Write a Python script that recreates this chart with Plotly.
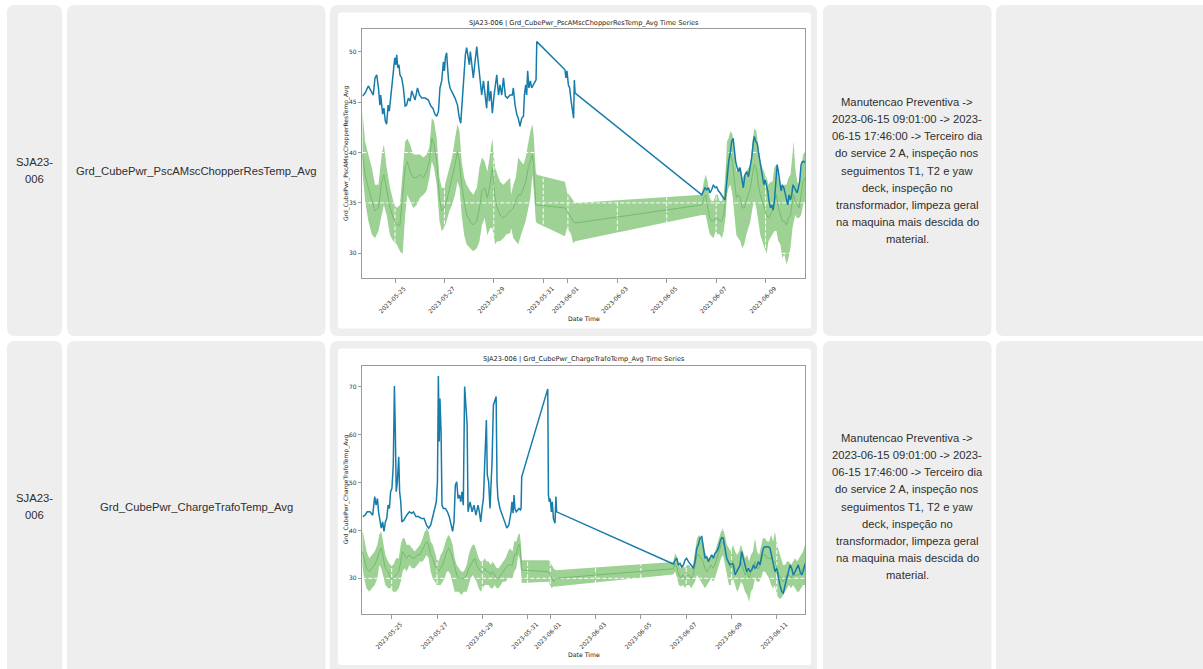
import pandas as pd
import plotly.graph_objects as go

W, H = 1203, 669
BASE = pd.Timestamp("2023-05-23 00:00")

# ---------------- Chart 1 : Grd_CubePwr_PscAMscChopperResTemp_Avg ----------------
c1_blue_day = [0.69, 0.79, 0.92, 1.02, 1.12, 1.19, 1.26, 1.33, 1.39, 1.42, 1.50, 1.55, 1.61, 1.66, 1.72, 1.77,
               1.83, 1.88, 1.93, 1.99, 2.03, 2.07, 2.11, 2.16, 2.20, 2.27, 2.34, 2.41, 2.47, 2.54, 2.61, 2.68,
               2.74, 2.81, 2.91, 2.99, 3.08, 3.22, 3.35, 3.45, 3.53, 3.62, 3.69, 3.76, 3.82, 3.89, 3.96, 4.00,
               4.04, 4.09, 4.13, 4.17, 4.23, 4.34, 4.43, 4.53, 4.59, 4.66, 4.74, 4.80, 4.85, 4.90, 4.96, 5.01,
               5.05, 5.11, 5.17, 5.24, 5.31, 5.38, 5.44, 5.51, 5.58, 5.65, 5.71, 5.77, 5.82, 5.88, 5.94, 6.01,
               6.06, 6.12, 6.19, 6.25, 6.32, 6.39, 6.47, 6.55, 6.66, 6.75, 6.79, 6.86, 6.93, 6.99, 7.06, 7.13,
               7.20, 7.24, 7.29, 7.33, 7.37, 7.42, 7.48, 7.53, 7.60, 7.67, 7.71, 7.74, 8.88, 8.92, 8.96, 9.02,
               9.07, 9.13, 9.18, 9.23, 9.26, 9.29, 14.42, 14.48, 14.55, 14.62, 14.69, 14.75, 14.82, 14.89,
               14.96, 15.02, 15.09, 15.16, 15.23, 15.29, 15.36, 15.42, 15.47, 15.52, 15.58, 15.63, 15.69,
               15.74, 15.79, 15.85, 15.90, 15.97, 16.04, 16.10, 16.17, 16.24, 16.31, 16.37, 16.44, 16.51,
               16.55, 16.60, 16.66, 16.71, 16.76, 16.82, 16.87, 16.93, 16.98, 17.04, 17.09, 17.14, 17.20,
               17.25, 17.31, 17.36, 17.41, 17.47, 17.52, 17.58, 17.63, 17.68, 17.74, 17.79, 17.84, 17.90,
               17.95, 18.01, 18.06, 18.11, 18.17, 18.22, 18.28, 18.33, 18.38, 18.44, 18.49, 18.55, 18.60]
c1_blue_val = [45.6, 45.9, 46.6, 46.1, 45.7, 47.4, 47.7, 46.4, 44.7, 45.7, 43.8, 44.4, 43.1, 42.8, 44.7, 44.1,
               45.7, 46.4, 48.4, 49.4, 48.7, 49.7, 48.4, 48.7, 47.7, 47.4, 46.4, 44.6, 44.7, 45.4, 45.1, 46.1,
               45.7, 45.2, 46.4, 45.7, 45.4, 45.4, 45.2, 44.6, 44.4, 43.8, 43.6, 44.1, 46.4, 47.1, 49.0, 48.1,
               49.4, 49.9, 48.4, 47.1, 46.4, 45.9, 45.4, 44.7, 43.6, 42.9, 45.7, 48.4, 49.7, 50.4, 49.4, 48.7,
               50.0, 48.4, 47.4, 49.0, 50.5, 48.7, 47.4, 45.7, 47.1, 45.4, 44.4, 47.1, 45.1, 46.1, 43.9, 45.7,
               46.7, 47.7, 45.7, 46.7, 45.7, 47.4, 45.6, 45.4, 45.7, 45.7, 46.4, 44.7, 43.8, 43.4, 42.6, 43.4,
               43.6, 45.7, 46.7, 45.7, 48.1, 46.4, 47.1, 46.4, 46.7, 47.1, 47.2, 51.0, 48.2, 47.4, 48.1, 46.7,
               46.4, 45.1, 43.9, 43.4, 47.2, 45.9, 35.8, 36.2, 36.5, 36.3, 36.5, 36.0, 36.3, 36.8,
               36.5, 36.6, 36.2, 36.0, 35.7, 35.5, 35.3, 36.8, 38.8, 39.3, 40.1, 41.1, 41.4,
               40.0, 39.1, 38.5, 38.1, 38.5, 37.3, 36.5, 37.8, 38.1, 37.6, 38.5, 39.5, 41.1,
               41.6, 41.1, 40.9, 40.1, 39.3, 38.1, 37.5, 36.8, 37.3, 36.8, 36.2, 35.2, 34.5,
               34.8, 34.3, 35.2, 36.8, 38.8, 38.1, 36.8, 36.2, 36.8, 36.5, 36.0, 35.5, 34.8,
               35.8, 35.3, 35.8, 36.8, 36.5, 36.2, 36.0, 36.5, 37.1, 38.8, 39.1, 39.1, 39.0]

c1_band_day = [0.68, 0.79, 0.92, 1.06, 1.19, 1.33, 1.46, 1.55, 1.66, 1.80, 1.93, 2.07, 2.20, 2.31, 2.41, 2.50,
               2.61, 2.74, 2.88, 3.01, 3.15, 3.28, 3.39, 3.49, 3.58, 3.69, 3.80, 3.89, 3.99, 4.09, 4.20, 4.31,
               4.43, 4.53, 4.61, 4.70, 4.80, 4.90, 5.04, 5.17, 5.31, 5.42, 5.52, 5.63, 5.74, 5.85, 5.94, 6.05,
               6.14, 6.25, 6.39, 6.52, 6.66, 6.70, 6.79, 6.89, 6.99, 7.10, 7.20, 7.29, 7.40, 7.48, 7.56, 7.61,
               7.70, 7.74, 8.88, 8.96, 9.05, 9.13, 9.21, 9.29, 14.42, 14.50, 14.58, 14.66, 14.74, 14.82, 14.90,
               14.98, 15.06, 15.14, 15.23, 15.31, 15.39, 15.44, 15.50, 15.58, 15.66, 15.74, 15.82, 15.90, 15.98,
               16.06, 16.14, 16.22, 16.31, 16.39, 16.47, 16.55, 16.63, 16.71, 16.79, 16.87, 16.95, 17.04, 17.12,
               17.20, 17.28, 17.36, 17.44, 17.52, 17.60, 17.68, 17.76, 17.85, 17.93, 18.01, 18.09, 18.14, 18.20,
               18.28, 18.36, 18.44, 18.52, 18.60]
c1_band_upper = [44.1, 41.1, 39.8, 38.5, 36.8, 36.8, 39.8, 40.8, 38.5, 36.5, 35.2, 34.5, 34.8, 38.1, 41.1, 41.4,
                 40.8, 39.8, 39.8, 39.8, 39.5, 39.8, 40.5, 43.4, 43.1, 41.4, 37.5, 36.5, 36.5, 37.5, 38.5, 39.5,
                 41.4, 42.8, 42.1, 39.1, 37.5, 36.8, 36.2, 35.8, 36.5, 38.5, 39.5, 39.1, 38.1, 40.1, 41.4, 38.5,
                 37.8, 37.1, 36.8, 37.1, 37.5, 35.8, 36.8, 37.5, 39.5, 39.1, 38.8, 39.5, 41.1, 42.1, 42.8, 41.8,
                 38.1, 37.8, 37.1, 36.1, 35.8, 35.5, 35.2, 35.0, 35.8, 37.1, 37.8, 37.1, 35.5, 35.2, 35.2,
                 35.8, 35.8, 35.2, 35.2, 35.8, 38.5, 41.1, 41.4, 42.1, 41.8, 39.8, 38.1, 38.5, 38.5,
                 37.5, 37.8, 38.1, 38.5, 38.8, 41.1, 42.4, 42.1, 40.8, 39.1, 38.5, 38.1, 37.5, 36.8,
                 37.1, 37.1, 38.5, 38.8, 37.5, 36.8, 36.5, 36.8, 36.8, 37.5, 37.8, 39.8, 41.1, 38.5,
                 37.1, 36.8, 38.5, 39.8, 40.1]
c1_band_mean = [39.8, 37.8, 36.5, 35.2, 34.2, 34.5, 37.1, 37.8, 36.5, 34.5, 33.5, 32.8, 32.8, 35.5, 38.5, 39.1,
                38.1, 37.5, 37.5, 37.8, 37.5, 38.1, 39.1, 41.4, 40.8, 39.1, 35.5, 34.2, 34.5, 35.2, 36.5, 37.5,
                38.8, 40.1, 39.1, 36.8, 35.2, 33.8, 33.2, 32.8, 33.2, 34.5, 36.2, 36.5, 35.5, 36.8, 38.5, 35.5,
                34.5, 33.8, 33.5, 33.8, 34.2, 34.2, 34.5, 35.2, 35.8, 35.8, 36.5, 37.1, 38.5, 39.1, 39.8, 38.8,
                34.8, 34.8, 34.5, 34.2, 33.8, 33.5, 33.2, 33.0, 34.8, 35.5, 35.8, 34.5, 33.5, 33.2, 33.2,
                33.5, 33.5, 33.2, 33.2, 33.8, 35.8, 38.5, 39.1, 39.8, 39.1, 37.1, 35.5, 35.8, 35.5,
                34.5, 34.5, 35.2, 35.8, 36.5, 37.8, 38.8, 38.5, 36.8, 35.8, 35.2, 34.5, 33.8, 33.5,
                33.8, 34.2, 35.2, 35.8, 34.5, 33.8, 33.2, 33.2, 32.8, 33.5, 33.8, 35.2, 35.8, 35.2,
                34.8, 34.5, 35.8, 37.1, 37.5]
c1_band_lower = [38.1, 35.2, 33.2, 31.9, 31.5, 32.2, 33.8, 34.8, 33.8, 31.8, 31.2, 30.9, 30.2, 29.9, 33.8, 35.8,
                 35.2, 34.5, 34.8, 35.5, 35.8, 36.2, 37.5, 39.1, 38.5, 36.8, 33.2, 32.2, 32.5, 33.2, 34.2, 34.8,
                 35.8, 37.1, 36.5, 33.8, 31.8, 30.9, 30.5, 30.2, 30.5, 31.2, 32.8, 33.5, 31.8, 32.5, 32.5, 30.9,
                 31.2, 31.2, 31.5, 31.9, 32.0, 32.5, 31.5, 31.2, 30.9, 31.8, 32.5, 33.2, 34.5, 35.5, 37.8, 36.5,
                 33.2, 33.0, 31.7, 32.5, 32.2, 31.9, 31.0, 31.2, 33.8, 33.8, 33.8, 32.8, 31.9, 31.7, 31.5,
                 32.2, 31.9, 31.9, 31.5, 32.2, 33.8, 35.8, 36.5, 36.8, 35.8, 33.8, 31.8, 31.5, 31.2,
                 30.5, 30.9, 31.8, 32.5, 33.2, 34.5, 35.2, 34.5, 33.2, 31.8, 31.2, 30.5, 29.9, 31.2,
                 31.5, 31.8, 32.2, 32.2, 31.2, 30.9, 29.5, 29.9, 28.9, 29.5, 30.5, 32.5, 33.2, 33.8,
                 33.5, 33.5, 33.8, 34.8, 35.2]

c1_title = "SJA23-006 | Grd_CubePwr_PscAMscChopperResTemp_Avg Time Series"
c1_ylabel = "Grd_CubePwr_PscAMscChopperResTemp_Avg"
c1_xticks = ["2023-05-25", "2023-05-27", "2023-05-29", "2023-05-31", "2023-06-01",
             "2023-06-03", "2023-06-05", "2023-06-07", "2023-06-09"]
c1_yticks = [30, 35, 40, 45, 50]
c1_xrange_day = [0.676, 18.61]
c1_yrange = [27.52, 52.28]

# ---------------- Chart 2 : Grd_CubePwr_ChargeTrafoTemp_Avg ----------------
c2_blue_day = [0.72, 0.82, 0.92, 1.04, 1.16, 1.25, 1.31, 1.37, 1.42, 1.48, 1.54, 1.60, 1.66, 1.72, 1.78, 1.84,
               1.90, 1.95, 2.01, 2.07, 2.12, 2.16, 2.20, 2.25, 2.31, 2.35, 2.40, 2.45, 2.54, 2.66, 2.78, 2.88,
               2.96, 3.07, 3.18, 3.32, 3.43, 3.54, 3.63, 3.72, 3.81, 3.90, 3.97, 4.02, 4.06, 4.10, 4.13, 4.18,
               4.22, 4.28, 4.37, 4.46, 4.54, 4.63, 4.69, 4.75, 4.81, 4.87, 4.93, 4.99, 5.05, 5.10, 5.16, 5.22,
               5.28, 5.33, 5.37, 5.46, 5.55, 5.63, 5.72, 5.81, 5.87, 5.93, 5.99, 6.05, 6.11, 6.18, 6.22, 6.28,
               6.34, 6.43, 6.49, 6.56, 6.61, 6.65, 6.69, 6.78, 6.90, 6.99, 7.08, 7.17, 7.22, 7.27, 7.31, 7.36,
               7.40, 7.44, 7.50, 7.56, 7.62, 7.68, 7.71, 7.74, 8.89, 8.92, 8.96, 9.00, 9.05, 9.09, 9.14, 9.21,
               9.25, 9.28, 14.43, 14.51, 14.58, 14.66, 14.73, 14.80, 14.88, 14.95, 15.02, 15.10, 15.17, 15.24,
               15.32, 15.39, 15.47, 15.54, 15.61, 15.69, 15.76, 15.83, 15.91, 15.98, 16.05, 16.13, 16.20,
               16.27, 16.35, 16.42, 16.50, 16.57, 16.64, 16.72, 16.79, 16.86, 16.94, 17.01, 17.08, 17.16,
               17.23, 17.31, 17.38, 17.45, 17.53, 17.60, 17.67, 17.75, 17.82, 17.89, 17.97, 18.04, 18.11,
               18.19, 18.26, 18.34, 18.41, 18.48, 18.56, 18.63, 18.70, 18.78, 18.85, 18.92, 19.00, 19.07,
               19.14, 19.22, 19.29, 19.37, 19.44, 19.51, 19.59, 19.66, 19.73, 19.81, 19.88, 19.95, 20.03,
               20.10, 20.18, 20.25]
c2_blue_val = [42.9, 43.2, 43.9, 43.9, 43.2, 47.1, 45.3, 46.7, 43.9, 41.8, 40.5, 41.8, 39.8, 41.8, 42.5, 45.3,
               44.6, 48.1, 48.8, 53.7, 70.2, 60.7, 48.1, 50.2, 55.4, 48.1, 46.0, 41.8, 42.2, 43.2, 43.9, 43.6,
               43.9, 42.9, 42.9, 42.5, 42.5, 41.1, 40.5, 41.1, 43.2, 44.6, 46.0, 50.2, 72.3, 58.6, 67.6, 60.7,
               45.3, 44.6, 44.6, 43.9, 42.9, 41.1, 39.8, 41.8, 49.5, 50.2, 46.7, 47.4, 46.0, 48.1, 45.3, 70.1,
               66.2, 62.1, 43.9, 46.0, 43.9, 45.3, 43.2, 45.3, 43.9, 41.8, 44.6, 46.7, 54.4, 63.1, 51.6, 50.2,
               44.6, 54.4, 66.2, 67.3, 68.0, 50.2, 46.7, 44.6, 43.2, 41.8, 40.5, 41.1, 42.5, 43.9, 46.0, 43.6,
               47.4, 44.6, 43.9, 44.3, 44.6, 44.3, 44.6, 51.2, 69.6, 47.4, 46.0, 46.7, 43.9, 46.0, 42.5, 41.5,
               47.1, 43.9, 33.0, 33.8, 34.2, 32.8, 33.1, 32.4, 32.8, 33.8, 34.2, 33.5, 33.1, 32.8,
               32.1, 33.5, 36.3, 37.0, 38.4, 38.7, 36.6, 34.2, 34.5, 33.5, 34.2, 34.9, 34.2,
               35.2, 35.6, 36.3, 37.7, 38.5, 38.4, 36.3, 34.2, 33.5, 32.8, 33.1, 32.8, 30.7,
               31.4, 32.1, 32.8, 35.6, 34.2, 32.8, 31.4, 32.1, 31.4, 31.7, 32.8, 32.1, 32.4,
               33.5, 32.8, 34.9, 36.3, 36.6, 36.6, 36.6, 36.3, 34.2, 32.8, 31.4, 32.1, 30.0,
               28.6, 27.2, 26.9, 28.6, 30.0, 31.4, 32.8, 32.1, 30.7, 31.4, 32.1, 32.8, 31.4,
               30.7, 31.7, 33.1]

c2_band_day = [0.70, 0.78, 0.89, 1.01, 1.13, 1.25, 1.37, 1.45, 1.54, 1.63, 1.72, 1.84, 1.95, 2.07, 2.19, 2.31,
               2.40, 2.48, 2.57, 2.66, 2.78, 2.90, 3.01, 3.13, 3.25, 3.37, 3.46, 3.54, 3.63, 3.72, 3.81, 3.90,
               3.99, 4.07, 4.16, 4.25, 4.34, 4.43, 4.52, 4.60, 4.69, 4.78, 4.87, 4.96, 5.07, 5.19, 5.31, 5.40,
               5.49, 5.58, 5.66, 5.75, 5.84, 5.93, 6.02, 6.11, 6.19, 6.28, 6.37, 6.46, 6.55, 6.64, 6.72, 6.81,
               6.90, 7.02, 7.14, 7.22, 7.33, 7.41, 7.50, 7.59, 7.65, 7.71, 7.74, 8.92, 8.99, 9.06, 9.14, 9.24,
               14.43, 14.51, 14.60, 14.68, 14.77, 14.86, 14.95, 15.04, 15.13, 15.22, 15.30, 15.39, 15.48, 15.57,
               15.66, 15.74, 15.83, 15.92, 16.01, 16.10, 16.19, 16.27, 16.36, 16.45, 16.54, 16.63, 16.72, 16.80,
               16.89, 16.98, 17.07, 17.16, 17.25, 17.33, 17.42, 17.51, 17.60, 17.69, 17.78, 17.86, 17.95, 18.04,
               18.13, 18.22, 18.31, 18.39, 18.48, 18.57, 18.66, 18.75, 18.84, 18.92, 19.01, 19.10, 19.19, 19.28,
               19.37, 19.45, 19.54, 19.63, 19.72, 19.81, 19.90, 19.98, 20.07, 20.16, 20.25]
c2_band_upper = [40.5, 38.4, 35.6, 34.2, 34.9, 35.6, 37.0, 39.1, 39.8, 37.7, 34.9, 33.5, 32.8, 32.8, 34.2, 34.2,
                 37.0, 38.4, 38.4, 37.0, 37.0, 36.3, 35.6, 36.3, 37.0, 38.4, 39.8, 40.5, 39.8, 37.7, 37.0, 35.6,
                 34.2, 33.5, 34.9, 35.6, 37.0, 38.4, 39.1, 38.4, 37.0, 34.2, 32.8, 32.1, 31.4, 31.4, 32.8, 34.9,
                 36.3, 37.0, 37.0, 35.6, 34.2, 33.5, 33.5, 34.2, 33.5, 33.5, 32.8, 33.5, 32.8, 32.1, 32.1, 32.8,
                 33.5, 34.2, 35.6, 36.3, 35.6, 37.7, 37.7, 39.1, 39.4, 37.0, 33.8, 33.8, 33.5, 32.8, 32.1, 31.7,
                 33.4, 35.2, 34.5, 32.8, 32.1, 32.8, 32.1, 32.8, 32.8, 32.1, 32.8, 35.6, 38.4, 39.1,
                 38.4, 37.7, 35.6, 34.2, 34.2, 34.9, 34.2, 35.6, 37.0, 38.4, 39.8, 40.5, 38.4, 37.0,
                 36.3, 35.6, 37.0, 35.6, 34.9, 35.6, 37.0, 35.6, 34.2, 34.9, 33.5, 34.9, 35.6, 38.4,
                 35.6, 34.9, 37.0, 38.4, 38.4, 37.7, 37.7, 39.1, 37.7, 39.8, 37.0, 35.6, 34.2, 32.8,
                 32.8, 33.5, 33.5, 32.8, 33.5, 34.2, 33.5, 34.2, 34.9, 35.6, 37.0]
c2_band_mean = [35.6, 34.2, 32.1, 31.4, 32.1, 32.8, 34.2, 35.6, 36.3, 34.2, 32.1, 31.4, 30.0, 30.0, 30.7, 31.4,
                33.5, 35.6, 34.9, 34.2, 34.9, 34.2, 34.2, 34.9, 34.9, 36.3, 37.0, 37.7, 37.0, 34.9, 34.2, 32.8,
                32.1, 31.4, 32.1, 32.8, 34.2, 35.6, 36.3, 35.6, 34.2, 32.1, 30.7, 30.0, 30.0, 30.0, 30.7, 32.1,
                32.8, 33.5, 34.2, 32.8, 32.1, 31.4, 31.4, 32.1, 31.4, 31.4, 30.7, 31.4, 30.7, 30.0, 30.0, 30.7,
                31.4, 32.1, 32.8, 32.8, 32.8, 34.9, 34.9, 37.0, 37.0, 34.2, 31.7, 31.4, 30.7, 30.0, 29.3, 30.0,
                32.0, 33.1, 32.1, 30.7, 30.0, 30.7, 30.0, 30.7, 30.7, 30.0, 30.7, 32.8, 34.9, 34.9,
                34.2, 33.5, 32.1, 31.4, 32.1, 32.8, 32.1, 32.8, 34.2, 35.6, 37.0, 37.7, 35.6, 34.2,
                32.8, 32.1, 33.5, 32.1, 31.4, 32.1, 33.5, 32.1, 30.7, 31.4, 30.0, 31.4, 32.1, 33.5,
                32.1, 32.1, 33.5, 34.9, 34.9, 34.2, 34.2, 34.2, 33.5, 33.5, 32.1, 30.7, 30.0, 29.3,
                30.0, 30.7, 30.7, 30.0, 30.7, 30.7, 30.7, 30.7, 31.4, 32.1, 32.8]
c2_band_lower = [32.8, 30.0, 27.9, 27.2, 27.9, 28.6, 30.0, 32.8, 32.1, 30.0, 28.6, 27.9, 27.9, 27.2, 27.2, 27.9,
                 29.3, 31.4, 32.1, 31.4, 32.8, 32.1, 32.1, 32.8, 33.5, 33.5, 34.2, 34.9, 34.2, 31.4, 30.0, 29.3,
                 28.6, 28.6, 28.6, 29.3, 30.0, 31.4, 31.4, 30.7, 28.6, 27.2, 27.2, 27.2, 26.5, 27.2, 27.2, 28.6,
                 30.0, 30.7, 30.0, 29.3, 27.9, 27.2, 27.9, 28.6, 28.6, 28.6, 27.9, 27.9, 28.6, 27.9, 27.9, 28.6,
                 29.3, 29.3, 30.0, 30.0, 30.0, 31.4, 32.1, 34.9, 34.2, 31.4, 29.0, 29.3, 28.6, 27.9, 28.3, 28.3,
                 30.8, 31.4, 30.0, 28.6, 28.3, 28.6, 27.9, 28.6, 28.6, 27.9, 28.6, 29.3, 30.7, 30.0,
                 29.3, 28.6, 27.9, 28.6, 29.3, 30.0, 29.3, 30.0, 31.4, 32.8, 34.2, 34.9, 32.8, 30.7,
                 28.6, 28.6, 30.0, 28.6, 27.2, 27.9, 29.3, 28.6, 27.2, 26.5, 25.1, 27.2, 27.9, 30.0,
                 29.3, 29.3, 30.0, 31.4, 31.4, 30.7, 30.0, 28.6, 27.9, 28.6, 26.5, 25.8, 25.8, 26.5,
                 27.2, 27.9, 28.6, 27.9, 28.6, 27.9, 27.2, 27.2, 27.9, 28.6, 28.6]

c2_title = "SJA23-006 | Grd_CubePwr_ChargeTrafoTemp_Avg Time Series"
c2_ylabel = "Grd_CubePwr_ChargeTrafoTemp_Avg"
c2_xticks = ["2023-05-25", "2023-05-27", "2023-05-29", "2023-05-31", "2023-06-01",
             "2023-06-03", "2023-06-05", "2023-06-07", "2023-06-09", "2023-06-11"]
c2_yticks = [30, 40, 50, 60, 70]
c2_xrange_day = [0.702, 20.26]
c2_yrange = [22.54, 74.45]

# ---------------- Table text ----------------
row_ids = ["SJA23-006", "SJA23-006"]
row_vars = ["Grd_CubePwr_PscAMscChopperResTemp_Avg", "Grd_CubePwr_ChargeTrafoTemp_Avg"]
note_lines = ["Manutencao Preventiva ->",
              "2023-06-15 09:01:00 -> 2023-",
              "06-15 17:46:00 -> Terceiro dia",
              "do service 2 A, inspeção nos",
              "seguimentos T1, T2 e yaw",
              "deck, inspeção no",
              "transformador, limpeza geral",
              "na maquina mais descida do",
              "material."]

# ---------------- styling ----------------
CELL_BG = "#eeeeee"
TEXT_C = "#2e2e2e"
BLUE = "#167ca9"
BAND = "#9dd294"
MEAN = "#74bb6f"
SPINE = "#9a9a9a"
MPL_FONT = "DejaVu Sans"
CELL_FONT = "Liberation Sans, Arial, sans-serif"


def ts(days):
    return [BASE + pd.to_timedelta(d, unit="D") for d in days]


def X(px):
    return px / W


def Y(py):
    return 1 - py / H


def rrect(x0, y0, x1, y1, r, color):
    p = (f"M {X(x0 + r)},{Y(y0)} L {X(x1 - r)},{Y(y0)} Q {X(x1)},{Y(y0)} {X(x1)},{Y(y0 + r)} "
         f"L {X(x1)},{Y(y1 - r)} Q {X(x1)},{Y(y1)} {X(x1 - r)},{Y(y1)} "
         f"L {X(x0 + r)},{Y(y1)} Q {X(x0)},{Y(y1)} {X(x0)},{Y(y1 - r)} "
         f"L {X(x0)},{Y(y0 + r)} Q {X(x0)},{Y(y0)} {X(x0 + r)},{Y(y0)} Z")
    return dict(type="path", path=p, xref="paper", yref="paper", fillcolor=color,
                line=dict(width=0), layer="below")


fig = go.Figure()

charts = [
    dict(xa="x", ya="y", bd=c1_blue_day, bv=c1_blue_val, nd=c1_band_day, up=c1_band_upper,
         mn=c1_band_mean, lo=c1_band_lower, xt=c1_xticks, yt=c1_yticks, xr=c1_xrange_day, yr=c1_yrange),
    dict(xa="x2", ya="y2", bd=c2_blue_day, bv=c2_blue_val, nd=c2_band_day, up=c2_band_upper,
         mn=c2_band_mean, lo=c2_band_lower, xt=c2_xticks, yt=c2_yticks, xr=c2_xrange_day, yr=c2_yrange),
]

for c in charts:
    bx = ts(c["nd"])
    fig.add_trace(go.Scatter(x=bx, y=c["lo"], mode="lines", line=dict(width=0, color=BAND),
                             xaxis=c["xa"], yaxis=c["ya"], showlegend=False, hoverinfo="skip"))
    fig.add_trace(go.Scatter(x=bx, y=c["up"], mode="lines", line=dict(width=0, color=BAND),
                             fill="tonexty", fillcolor=BAND,
                             xaxis=c["xa"], yaxis=c["ya"], showlegend=False, hoverinfo="skip"))
    # grid lines (drawn above the band, below the lines, as in matplotlib)
    x0, x1 = ts(c["xr"])
    gx, gy = [], []
    for t in c["xt"]:
        gx += [pd.Timestamp(t), pd.Timestamp(t), None]
        gy += [c["yr"][0], c["yr"][1], None]
    for v in c["yt"]:
        gx += [x0, x1, None]
        gy += [v, v, None]
    fig.add_trace(go.Scatter(x=gx, y=gy, mode="lines", line=dict(width=1, color="white", dash="4px,2px"),
                             xaxis=c["xa"], yaxis=c["ya"], showlegend=False, hoverinfo="skip"))
    fig.add_trace(go.Scatter(x=bx, y=c["mn"], mode="lines", line=dict(width=1, color=MEAN),
                             xaxis=c["xa"], yaxis=c["ya"], showlegend=False, hoverinfo="skip"))
    fig.add_trace(go.Scatter(x=ts(c["bd"]), y=c["bv"], mode="lines", line=dict(width=1.5, color=BLUE),
                             xaxis=c["xa"], yaxis=c["ya"], showlegend=False, hoverinfo="skip"))

# ----- layout: cells -----
row_tops = [5, 341]
row_bots = [336, 680]
cols = [(7, 62), (67, 325.5), (330, 817), (823, 991.5), (996, 1215)]
shapes = []
for rt, rb in zip(row_tops, row_bots):
    for (cx0, cx1) in cols:
        shapes.append(rrect(cx0, rt, cx1, rb, 8, CELL_BG))
# white image cards
shapes.append(rrect(338, 12.5, 811, 328.5, 3, "white"))
shapes.append(rrect(338, 348.5, 811, 665, 3, "white"))

annotations = []


def ann(text, px, py, size, font=CELL_FONT, color=TEXT_C, angle=0):
    annotations.append(dict(text=text, x=X(px), y=Y(py), xref="paper", yref="paper",
                            showarrow=False, xanchor="center", yanchor="middle", textangle=angle,
                            font=dict(family=font, size=size, color=color)))


row_centers = [170.5, 506.5]
for i, rc in enumerate(row_centers):
    a, b = row_ids[i].split("-")
    ann(a + "-", 34.5, rc - 8.2, 11.25)
    ann(b, 34.5, rc + 8.2, 11.25)
    ann(row_vars[i], 196, rc, 11.25)
    n = len(note_lines)
    for k, line in enumerate(note_lines):
        ann(line, 907, rc + (k - (n - 1) / 2) * 17.05, 11.25)

# chart titles & axis labels
plot_boxes = [(362.3, 28.7, 805.3, 278.3), (362.3, 365.7, 805.3, 614.0)]
titles = [c1_title, c2_title]
ylabels = [c1_ylabel, c2_ylabel]
title_y = [22.7, 359.0]
xlab_y = [318.4, 654.5]
for i, (l, t, r, b) in enumerate(plot_boxes):
    cx = (l + r) / 2
    ann(titles[i], cx, title_y[i], 6.6, font=MPL_FONT, color="#222")
    ann("Date Time", cx, xlab_y[i], 6.2, font=MPL_FONT, color="#222")
    ann(ylabels[i], 345.5, (t + b) / 2, 6.0, font=MPL_FONT, color="#222", angle=-90)


def axis_common():
    return dict(showline=True, mirror=True, linecolor=SPINE, linewidth=1, ticks="outside",
                ticklen=3.5, tickwidth=0.8, tickcolor=SPINE, showgrid=False, zeroline=False,
                tickfont=dict(family=MPL_FONT, size=6, color="#333"))


layout = dict(width=W, height=H, margin=dict(l=0, r=0, t=0, b=0), paper_bgcolor="white",
              plot_bgcolor="rgba(0,0,0,0)", shapes=shapes, annotations=annotations, showlegend=False)

for i, (c, (l, t, r, b)) in enumerate(zip(charts, plot_boxes)):
    suf = "" if i == 0 else "2"
    xa = axis_common()
    xa.update(type="date", domain=[X(l), X(r)], range=ts(c["xr"]), tickmode="array",
              tickvals=[pd.Timestamp(v) for v in c["xt"]], ticktext=c["xt"], tickangle=-45,
              anchor="y" + suf, ticklabelshift=9, ticklabelstandoff=0)
    ya = axis_common()
    ya.update(domain=[Y(b), Y(t)], range=c["yr"], tickmode="array", tickvals=c["yt"],
              ticktext=[str(v) for v in c["yt"]], anchor="x" + suf)
    layout["xaxis" + suf] = xa
    layout["yaxis" + suf] = ya

fig.update_layout(**layout)

fig.write_html("out.html", config={"displayModeBar": False},
               post_script="document.body.style.margin='0';document.body.style.overflow='hidden';")
